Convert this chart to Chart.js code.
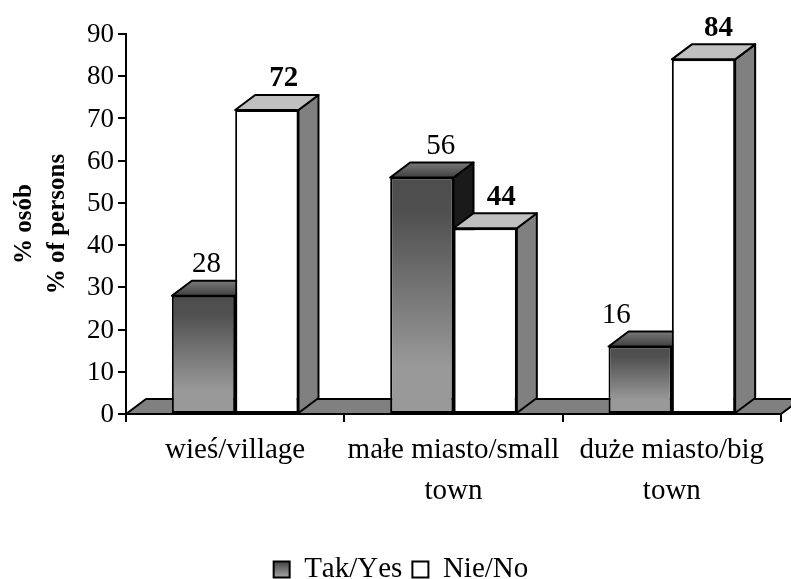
<!DOCTYPE html>
<html>
<head>
<meta charset="utf-8">
<style>
  html, body { margin: 0; padding: 0; background: #fff; }
  canvas { display: block; }
</style>
<script src="https://cdn.jsdelivr.net/npm/chart.js@4"></script>
</head>
<body>
<canvas id="wykres" width="791" height="579"></canvas>
<script>
const categories = [['wieś/village'], ['małe miasto/small', 'town'], ['duże miasto/big', 'town']];
const takValues = [28, 56, 16];
const nieValues = [72, 44, 84];
const yTicks = [0, 10, 20, 30, 40, 50, 60, 70, 80, 90];
const seriesNames = ['Tak/Yes', 'Nie/No'];
const axisTitle = ['% osób', '% of persons'];

const serif = '"Liberation Serif", "Times New Roman", serif';
const depthX = 20, depthY = 15;
// polozenie etykiet wzgledem srodka slupka
const labelShift = [[3, 17], [19, 16], [-24, 15]];

function shape(ctx, pts, fill) {
  ctx.beginPath();
  ctx.moveTo(pts[0][0], pts[0][1]);
  for (let i = 1; i < pts.length; i++) ctx.lineTo(pts[i][0], pts[i][1]);
  ctx.closePath();
  ctx.fillStyle = fill;
  ctx.fill();
  ctx.stroke();
}

function takGradient(ctx, top, bottom) {
  const g = ctx.createLinearGradient(0, top, 0, bottom);
  g.addColorStop(0, '#4d4d4d');
  g.addColorStop(0.15, '#505050');
  g.addColorStop(0.8, '#999999');
  g.addColorStop(1, '#999999');
  return g;
}

const bars3d = {
  id: 'bars3d',
  afterLayout(chart) {
    const legend = chart.legend;
    legend.left -= 55;
    legend.right -= 55;
    legend.top += 15;
    legend.bottom += 15;
  },
  beforeDraw(chart) {
    // bez kerningu, jak w oryginale
    chart.ctx.fontKerning = 'none';
    const legend = chart.legend;
    const items = legend.legendItems;
    if (items && items[0]) items[0].fillStyle = takGradient(chart.ctx, legend.top + 16, legend.top + 34);
  },
  beforeDatasetsDraw(chart) {
    const ctx = chart.ctx, area = chart.chartArea;
    ctx.save();
    ctx.strokeStyle = '#000';
    ctx.lineWidth = 2;
    ctx.lineJoin = 'round';
    // podloga
    shape(ctx, [[area.left, area.bottom], [area.left + depthX, area.bottom - depthY],
      [area.right + depthX, area.bottom - depthY], [area.right, area.bottom]], '#808080');
    // boki i gory slupkow
    chart.data.datasets.forEach((ds, d) => {
      chart.getDatasetMeta(d).data.forEach(bar => {
        const left = bar.x - bar.width / 2, right = bar.x + bar.width / 2;
        const top = bar.y, base = bar.base;
        shape(ctx, [[right, base], [right + depthX, base - depthY], [right + depthX, top - depthY], [right, top]],
          d === 0 ? '#1a1a1a' : '#808080');
        let topFill = '#c0c0c0';
        if (d === 0) {
          topFill = ctx.createLinearGradient(0, top - depthY, 0, top);
          topFill.addColorStop(0, '#7a7a7a');
          topFill.addColorStop(1, '#404040');
        }
        shape(ctx, [[left, top], [left + depthX, top - depthY], [right + depthX, top - depthY], [right, top]], topFill);
      });
    });
    ctx.restore();
  },
  afterDatasetsDraw(chart) {
    const ctx = chart.ctx;
    ctx.save();
    ctx.fillStyle = '#000';
    ctx.textAlign = 'center';
    ctx.textBaseline = 'middle';
    chart.data.datasets.forEach((ds, d) => {
      ctx.font = (d === 1 ? 'bold ' : '') + '29px ' + serif;
      chart.getDatasetMeta(d).data.forEach((bar, i) => {
        ctx.fillText(ds.data[i], bar.x + labelShift[i][d], bar.y - 31);
      });
    });
    ctx.restore();
  }
};

new Chart(document.getElementById('wykres'), {
  type: 'bar',
  data: {
    labels: categories,
    datasets: [
      {
        label: seriesNames[0],
        data: takValues,
        backgroundColor(c) {
          const chart = c.chart;
          if (!chart.chartArea) return '#808080';
          const y = chart.scales.y;
          return takGradient(chart.ctx, y.getPixelForValue(c.raw), y.getPixelForValue(0));
        }
      },
      { label: seriesNames[1], data: nieValues, backgroundColor: '#ffffff' }
    ]
  },
  options: {
    responsive: false,
    animation: false,
    devicePixelRatio: 1,
    layout: { padding: { top: 34, right: 10, left: 0, bottom: 0 } },
    datasets: {
      bar: {
        categoryPercentage: 0.58,
        barPercentage: 1,
        borderColor: '#000',
        borderWidth: 2,
        borderSkipped: false
      }
    },
    scales: {
      x: {
        afterFit(scale) { scale.height = 116; },
        border: { color: '#000', width: 2 },
        grid: { drawOnChartArea: false, color: '#000', lineWidth: 2, tickLength: 8 },
        ticks: {
          color: '#000',
          maxRotation: 0,
          autoSkip: false,
          padding: 8,
          font: { family: serif, size: 29, lineHeight: 1.41 }
        }
      },
      y: {
        min: 0,
        max: 90,
        afterBuildTicks(scale) { scale.ticks = yTicks.map(v => ({ value: v })); },
        afterFit(scale) { scale.width = 126; },
        border: { color: '#000', width: 2 },
        grid: { drawOnChartArea: false, color: '#000', lineWidth: 2, tickLength: 8 },
        title: {
          display: true,
          text: axisTitle,
          color: '#000',
          padding: { top: 8, bottom: 0 },
          font: { family: serif, size: 25, weight: 'bold', lineHeight: 1.32 }
        },
        ticks: {
          color: '#000',
          padding: 4,
          labelOffset: 1,
          font: { family: serif, size: 27 }
        }
      }
    },
    plugins: {
      tooltip: { enabled: false },
      legend: {
        position: 'bottom',
        fullSize: false,
        labels: {
          color: '#000',
          boxWidth: 16,
          boxHeight: 16,
          padding: 10,
          font: { family: serif, size: 29 },
          generateLabels(chart) {
            return seriesNames.map((name, i) => ({
              text: name,
              datasetIndex: i,
              fillStyle: i === 0 ? '#808080' : '#ffffff',
              strokeStyle: '#000',
              lineWidth: 2,
              hidden: false
            }));
          }
        }
      }
    }
  },
  plugins: [bars3d]
});
</script>
</body>
</html>
